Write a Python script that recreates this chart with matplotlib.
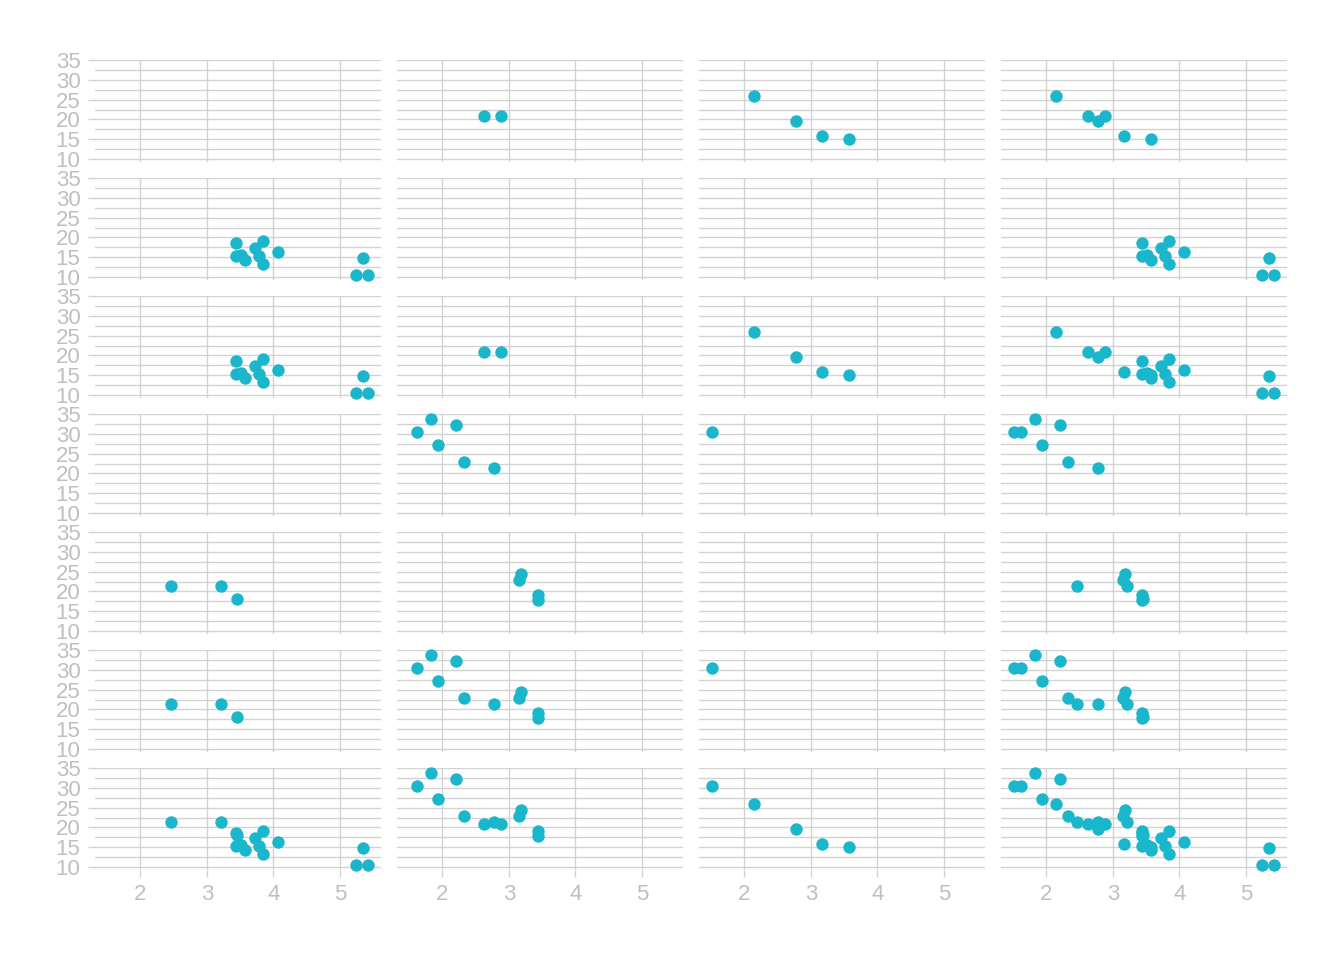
import numpy as np
import matplotlib
matplotlib.use("Agg")
import matplotlib.pyplot as plt

# mtcars: weight vs mpg, rows = vs/am (+ margins), cols = gear (+ margin)
wt = [2.620, 2.875, 2.320, 3.215, 3.440, 3.460, 3.570, 3.190, 3.150, 3.440, 3.440,
      4.070, 3.730, 3.780, 5.250, 5.424, 5.345, 2.200, 1.615, 1.835, 2.465, 3.520,
      3.435, 3.840, 3.845, 1.935, 2.140, 1.513, 3.170, 2.770, 3.570, 2.780]
mpg = [21.0, 21.0, 22.8, 21.4, 18.7, 18.1, 14.3, 24.4, 22.8, 19.2, 17.8,
       16.4, 17.3, 15.2, 10.4, 10.4, 14.7, 32.4, 30.4, 33.9, 21.5, 15.5,
       15.2, 13.3, 19.2, 27.3, 26.0, 30.4, 15.8, 19.7, 15.0, 21.4]
vs = [0, 0, 1, 1, 0, 1, 0, 1, 1, 1, 1, 0, 0, 0, 0, 0, 0, 1, 1, 1, 1, 0,
      0, 0, 0, 1, 0, 1, 0, 0, 0, 1]
am = [1, 1, 1, 0, 0, 0, 0, 0, 0, 0, 0, 0, 0, 0, 0, 0, 0, 1, 1, 1, 0, 0,
      0, 0, 0, 1, 1, 1, 1, 1, 1, 1]
gear = [4, 4, 4, 3, 3, 3, 3, 4, 4, 4, 4, 3, 3, 3, 3, 3, 3, 4, 4, 4, 3, 3,
        3, 3, 3, 4, 5, 5, 5, 5, 5, 4]

# None means "(all)" margin
row_keys = [(0, 1), (0, 0), (0, None), (1, 1), (1, 0), (1, None), (None, None)]
col_keys = [3, 4, 5, None]

wt = np.array(wt); mpg = np.array(mpg)
vs = np.array(vs); am = np.array(am); gear = np.array(gear)

point_col = '#1AB6CB'
grid_col = '#D2D2D2'
text_col = '#BFBFBF'

plt.rcParams['font.family'] = ['Liberation Sans', 'DejaVu Sans']

W, H = 1344, 960
fig = plt.figure(figsize=(W/100, H/100), dpi=100)

x0, pw, cstep = 95, 286, 302
y0, ph, rstep = 60, 102, 118

for r, (v, a) in enumerate(row_keys):
    for c, g in enumerate(col_keys):
        ax = fig.add_axes([(x0 + c*cstep)/W, 1 - (y0 + r*rstep + ph)/H, pw/W, ph/H])
        m = np.ones(len(wt), dtype=bool)
        if v is not None:
            m &= vs == v
        if a is not None:
            m &= am == a
        if g is not None:
            m &= gear == g
        ax.scatter(wt[m], mpg[m], s=80, color=point_col, linewidths=0, zorder=3, clip_on=False)

        ax.set_xlim(1.317, 5.62)
        ax.set_ylim(9.225, 35.075)
        ax.set_xticks([2, 3, 4, 5])
        ax.set_yticks([10, 15, 20, 25, 30, 35])
        ax.set_yticks([12.5, 17.5, 22.5, 27.5, 32.5], minor=True)
        ax.grid(True, which='major', color=grid_col, linewidth=1.0)
        ax.grid(True, which='minor', axis='y', color=grid_col, linewidth=1.0)
        ax.set_axisbelow(True)
        for s in ax.spines.values():
            s.set_visible(False)
        ax.tick_params(which='minor', length=0)
        ax.tick_params(which='major', color=grid_col, width=1.0, length=5,
                       labelcolor=text_col, labelsize=16)
        ax.tick_params(axis='y', pad=5.5)
        ax.tick_params(axis='x', pad=5)
        if c != 0:
            ax.tick_params(axis='y', left=False, labelleft=False)
        if r != len(row_keys) - 1:
            ax.tick_params(axis='x', bottom=False, labelbottom=False)

fig.savefig('out.png', dpi=100)
